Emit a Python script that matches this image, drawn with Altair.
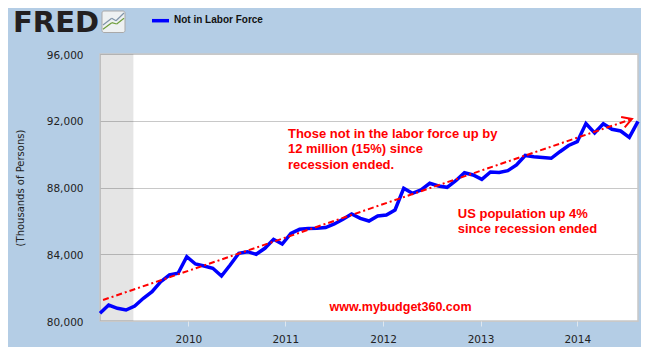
import altair as alt
import pandas as pd

# ---------------- data ----------------
months = pd.date_range("2009-02-01", "2014-04-01", freq="MS").strftime("%Y-%m").tolist()
not_in_labor_force = [
    80461, 80959, 80761, 80659, 80899, 81360, 81756, 82355, 82757, 82858,
    83853, 83416, 83296, 83158, 82697, 83356, 84057, 84153, 83997, 84357,
    84896, 84614, 85255, 85495, 85543, 85561, 85603, 85813, 86094, 86412,
    86154, 85993, 86292, 86352, 86652, 87952, 87652, 87850, 88252, 88090,
    88012, 88408, 88887, 88749, 88491, 88929, 88900, 89007, 89348, 89918,
    89840, 89798, 89750, 90145, 90517, 90745, 91835, 91266, 91823, 91488,
    91386, 91008, 91967,
]
# x axis: tick placements (in month-index units) and their labels as drawn in the source
tick_positions = [10.19, 21.35, 32.62, 43.85, 55.0]
tick_labels = ["2010", "2011", "2012", "2013", "2014"]
y_ticks = [80000, 84000, 88000, 92000, 96000]
# recession shading (month index), trend arrow endpoints
recession_start, recession_end = 0, 3.85
trend_x = [0.35, 61.3]
trend_y = [81258, 92105]

ann1 = ["Those not in the labor force up by", "12 million (15%) since", "recession ended."]
ann2 = ["US population up 4%", "since recession ended"]
ann3 = "www.mybudget360.com"

df = pd.DataFrame({"month": months, "idx": list(range(len(months))), "value": not_in_labor_force})
trend = pd.DataFrame({"idx": trend_x, "value": trend_y})
rec = pd.DataFrame({"start": [recession_start], "end": [recession_end]})
one = pd.DataFrame({"k": [0]})

RED = "#ff0000"
X = alt.Scale(domain=[0, len(months) - 1], nice=False, zero=False)
Y = alt.Scale(domain=[80000, 96000], nice=False, zero=False)

label_expr = "[" + ",".join(f"'{t}'" for t in tick_labels) + "][indexof([" + \
    ",".join(str(v) for v in tick_positions) + "], datum.value)]"

band = alt.Chart(rec).mark_rect(color="#000000", opacity=0.1).encode(
    x=alt.X("start:Q", scale=X),
    x2="end:Q",
    y=alt.value(0),
    y2=alt.value(267),
)

line = alt.Chart(df).mark_line(color="#0000ff", strokeWidth=3.5).encode(
    x=alt.X("idx:Q", scale=X,
            axis=alt.Axis(values=tick_positions, labelExpr=label_expr, title=None, grid=False,
                          domain=False, ticks=True, tickSize=5, tickColor="#dfe7ef",
                          labelPadding=8, labelFont="DejaVu Sans", labelFontSize=10.5,
                          labelColor="#222222")),
    y=alt.Y("value:Q", scale=Y,
            axis=alt.Axis(values=y_ticks, format=",d", title="(Thousands of Persons)",
                          grid=True, gridColor="#c8c8c8", domain=False, ticks=False,
                          labelPadding=17, labelFont="DejaVu Sans", labelFontSize=10.5,
                          labelColor="#222222", labelOffset=1,
                          titleFont="DejaVu Sans", titleFontSize=10, titleFontWeight="normal",
                          titleColor="#222222", titleAngle=270, titleX=-80, titleY=133.5,
                          titleAlign="center", titleBaseline="middle")),
)

trend_line = alt.Chart(trend).mark_line(color=RED, strokeWidth=2, strokeDash=[6, 3, 2, 3]).encode(
    x=alt.X("idx:Q", scale=X), y=alt.Y("value:Q", scale=Y)
)
arrow = alt.Chart(trend.tail(1)).mark_point(
    shape="M -0.866 -0.5 L 0 0 L -0.866 0.5", filled=False, size=484, angle=341,
    stroke=RED, strokeWidth=2, opacity=1,
).encode(x=alt.X("idx:Q", scale=X), y=alt.Y("value:Q", scale=Y))

txt_style = dict(font="Liberation Sans", fontWeight="bold", fontSize=13, color=RED,
                 align="left", baseline="alphabetic", lineHeight=15.6)
t1 = alt.Chart(one).mark_text(text=ann1, **txt_style).encode(
    x=alt.datum(21.66, scale=X), y=alt.datum(90984, scale=Y))
t2 = alt.Chart(one).mark_text(text=ann2, **txt_style).encode(
    x=alt.datum(41.23, scale=X), y=alt.datum(86190, scale=Y))
t3 = alt.Chart(one).mark_text(text=ann3, **{**txt_style, "fontSize": 12.5}).encode(
    x=alt.datum(26.46, scale=X), y=alt.datum(80617, scale=Y))

# ---------------- header: FRED logo and legend ----------------
fred = alt.Chart(one).mark_text(text="FRED", font="DejaVu Sans", fontWeight="bold", fontSize=29,
                                color="#231f20", align="left", baseline="alphabetic").encode(
    x=alt.value(-87), y=alt.value(-21.7))
icon = alt.Chart(one).mark_rect(fill="#eef1f2", stroke="#a9a9a9", strokeWidth=1, cornerRadius=2).encode(
    x=alt.value(2), x2=alt.value(25), y=alt.value(-43), y2=alt.value(-21.5))
icon_lines = []
for pts, col in [([(3, -29), (11.7, -35.7), (16, -33.3), (24, -41)], "#7f93a8"),
                 ([(3, -24.7), (11.7, -31.3), (16.7, -30), (24, -35.7)], "#6f9e3c")]:
    for (xa, ya), (xb, yb) in zip(pts[:-1], pts[1:]):
        icon_lines.append(alt.Chart(one).mark_rule(color=col, strokeWidth=1.2).encode(
            x=alt.value(xa), x2=alt.value(xb), y=alt.value(ya), y2=alt.value(yb)))
legend_line = alt.Chart(one).mark_rule(color="#0000ff", strokeWidth=3.5).encode(
    x=alt.value(52), x2=alt.value(69), y=alt.value(-33.3), y2=alt.value(-33.3))
legend_text = alt.Chart(one).mark_text(text="Not in Labor Force", font="Liberation Sans",
                                       fontWeight="bold", fontSize=10, color="#111111",
                                       align="left", baseline="middle").encode(
    x=alt.value(74), y=alt.value(-34))

chart = alt.layer(band, line, trend_line, arrow, t1, t2, t3, fred, icon, *icon_lines,
                  legend_line, legend_text).properties(
    width=538, height=267,
    autosize=alt.AutoSizeParams(type="none"),
    padding={"left": 92, "top": 46, "right": 3, "bottom": 26},
).configure(background="#b4cde5").configure_view(fill="white", stroke="#c8c8c8", strokeWidth=1.5)

chart.save("out.html", embed_options={"renderer": "svg", "actions": False})
